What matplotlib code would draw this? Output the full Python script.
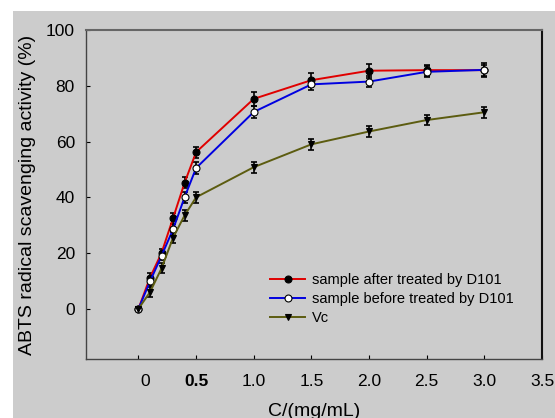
import matplotlib
matplotlib.use("Agg")
import matplotlib.pyplot as plt
import matplotlib.transforms as mtransforms
from matplotlib.patches import Rectangle

plt.rcParams['font.family'] = ['Liberation Sans', 'DejaVu Sans']

conc = [0, 0.1, 0.2, 0.3, 0.4, 0.5, 1.0, 1.5, 2.0, 2.5, 3.0]

after_d101 = [0, 11.2, 20.0, 32.5, 45.2, 56.2, 75.3, 82.0, 85.4, 85.6, 85.6]
after_err = [0.8, 1.5, 1.5, 2.0, 2.0, 2.0, 2.5, 2.5, 2.5, 2.0, 2.0]

before_d101 = [0, 9.8, 19.0, 28.5, 40.0, 50.5, 70.6, 80.5, 81.5, 85.0, 85.7]
before_err = [0.8, 1.5, 1.5, 2.0, 2.0, 2.0, 2.0, 2.0, 2.0, 2.0, 2.5]

vc = [0, 6.0, 14.5, 25.5, 33.5, 40.0, 50.8, 59.0, 63.6, 67.7, 70.5]
vc_err = [0.8, 1.8, 1.8, 2.0, 2.0, 2.0, 2.0, 2.0, 1.8, 1.8, 2.0]

xtick_pos = [0, 0.5, 1.0, 1.5, 2.0, 2.5, 3.0, 3.5]
xtick_labels = ["0", "0.5", "1.0", "1.5", "2.0", "2.5", "3.0", "3.5"]
ytick_pos = [0, 20, 40, 60, 80, 100]

bg = "#cccccc"

fig = plt.figure(figsize=(5.55, 4.18), dpi=100, facecolor="white")
fig.patches.append(Rectangle((13 / 555, 0), 1, 1 - 11 / 418, transform=fig.transFigure,
                             facecolor=bg, edgecolor="none", zorder=-10))
ax = fig.add_axes([86 / 555, 1 - 359 / 418, (542 - 86) / 555, (359 - 30) / 418])
ax.set_facecolor(bg)

series = [
    (after_d101, after_err, "#e00000", "o", "black", "sample after treated by D101"),
    (before_d101, before_err, "#0000e0", "o", "white", "sample before treated by D101"),
    (vc, vc_err, "#5c5c10", "v", "black", "Vc"),
]
for vals, err, col, mk, mfc, lab in series:
    ax.errorbar(conc, vals, yerr=err, fmt="none", ecolor="black", elinewidth=1.2,
                capsize=2.5, capthick=1.2, zorder=2)
    ax.plot(conc, vals, color=col, lw=1.4, marker=mk, markersize=5,
            markerfacecolor=mfc, markeredgecolor="black", markeredgewidth=0.8,
            label=lab, zorder=3)

ax.set_xlim(-0.455, 3.5)
ax.set_ylim(-18, 100)
ax.set_xticks(xtick_pos)
ax.set_xticklabels(xtick_labels)
ax.set_yticks(ytick_pos)
ax.tick_params(direction="in", length=3, width=0.8, labelsize=12.5, colors="black")
ax.tick_params(axis="x", pad=11)
ax.tick_params(axis="y", pad=8)

labels = ax.get_xticklabels()
labels[0].set_transform(labels[0].get_transform() +
                        mtransforms.ScaledTranslation(7 / 100, 0, fig.dpi_scale_trans))
labels[1].set_fontweight("bold")

for side in ["left", "bottom"]:
    ax.spines[side].set_color("#444444")
    ax.spines[side].set_linewidth(1.0)
ax.spines["top"].set_color("#666666")
ax.spines["top"].set_linewidth(1.5)
ax.spines["right"].set_color("#111111")
ax.spines["right"].set_linewidth(1.5)

ax.set_ylabel("ABTS radical scavenging activity (%)", fontsize=14, labelpad=7)
ax.set_xlabel("C/(mg/mL)", fontsize=14, labelpad=10)

ax.legend(loc="lower right", bbox_to_anchor=(0.95, 0.085), frameon=False, fontsize=10.5,
          handlelength=2.4, handletextpad=0.45, labelspacing=0.35, borderaxespad=0)

fig.savefig("out.png", dpi=100, facecolor="white")
